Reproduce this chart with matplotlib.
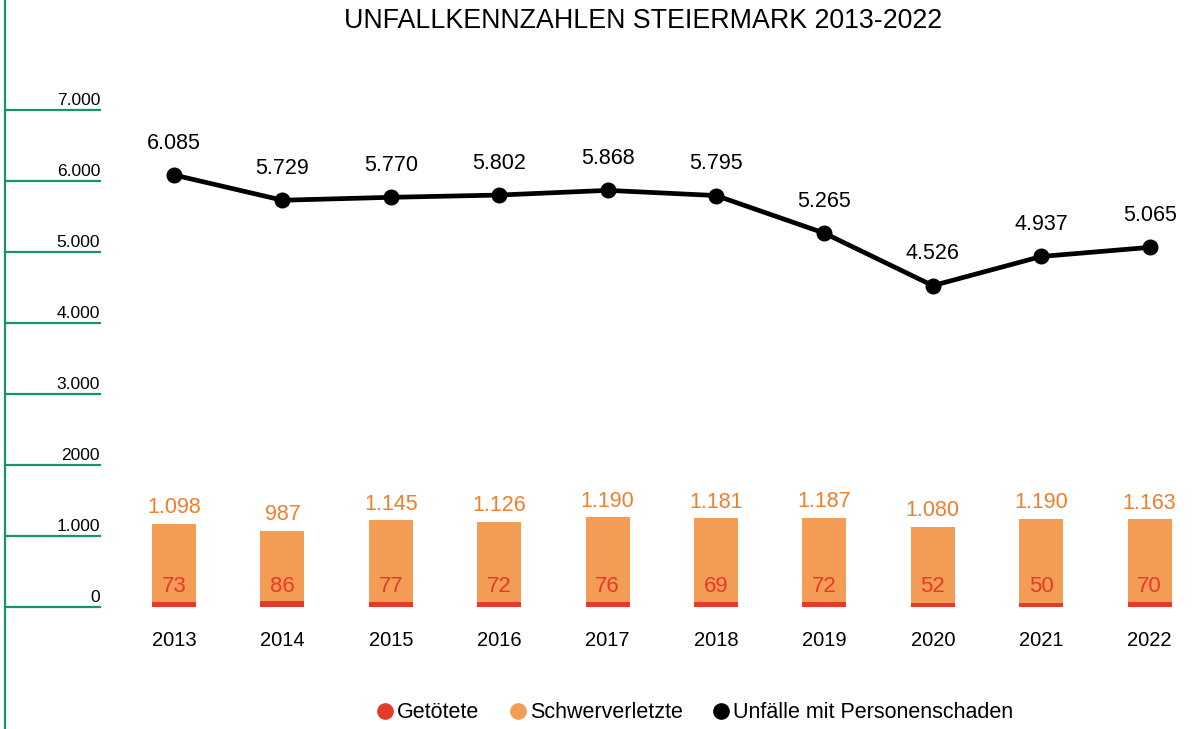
import matplotlib.pyplot as plt
from matplotlib.lines import Line2D

years = ['2013', '2014', '2015', '2016', '2017', '2018', '2019', '2020', '2021', '2022']
getoetete = [73, 86, 77, 72, 76, 69, 72, 52, 50, 70]
schwerverletzte = [1098, 987, 1145, 1126, 1190, 1181, 1187, 1080, 1190, 1163]
unfaelle = [6085, 5729, 5770, 5802, 5868, 5795, 5265, 4526, 4937, 5065]

y_ticks = [0, 1000, 2000, 3000, 4000, 5000, 6000, 7000]
y_labels = ['0', '1.000', '2000', '3.000', '4.000', '5.000', '6.000', '7.000']

RED = '#e63b2a'
ORANGE = '#f39c56'
ORANGE_TXT = '#f07e2c'
GREEN = '#17936d'


def fmt(v):
    return f'{v:,}'.replace(',', '.')


def main():
    plt.rcParams['font.family'] = ['Liberation Sans', 'DejaVu Sans']

    fig = plt.figure(figsize=(11.93, 7.29), dpi=100)
    ax = fig.add_axes([0, 0, 1, 1])
    ax.set_xlim(-1.605, 9.40)
    ax.set_ylim(-1718, 8549)
    ax.axis('off')

    x = list(range(len(years)))

    # stacked bars: killed at the bottom, seriously injured on top
    ax.bar(x, getoetete, width=0.405, color=RED, zorder=2)
    ax.bar(x, schwerverletzte, width=0.405, bottom=getoetete, color=ORANGE, zorder=2)

    for i in x:
        ax.annotate(str(getoetete[i]), (i, 0), xytext=(0, 15), textcoords='offset points',
                    ha='center', va='center', fontsize=16, color=RED, zorder=3)
        top = getoetete[i] + schwerverletzte[i]
        ax.annotate(fmt(schwerverletzte[i]), (i, top), xytext=(0, 11.5), textcoords='offset points',
                    ha='center', va='center', fontsize=15.5, color=ORANGE_TXT)
        ax.annotate(years[i], (i, 0), xytext=(0, -24), textcoords='offset points',
                    ha='center', va='center', fontsize=14.5, color='black')

    # accident line
    ax.plot(x, unfaelle, color='black', lw=3.4, marker='o', markersize=10.5, zorder=4)
    for i in x:
        ax.annotate(fmt(unfaelle[i]), (i, unfaelle[i]), xytext=(0, 23), textcoords='offset points',
                    ha='center', va='center', fontsize=15.5, color='black')

    # green axis on the left
    x0 = 5 / 1193
    x1 = 100 / 1193
    ax.plot([x0, x0], [0, 1], transform=ax.transAxes, color=GREEN, lw=1.6, clip_on=False)
    tr = ax.get_yaxis_transform()
    for v, lab in zip(y_ticks, y_labels):
        ax.plot([x0, x1], [v, v], transform=tr, color=GREEN, lw=1.6)
        ax.annotate(lab, (x1, v), xycoords=tr, xytext=(0, 3.5), textcoords='offset points',
                    ha='right', va='baseline', fontsize=12.5, color='black')

    fig.text(0.539, 1 - 21 / 729, 'UNFALLKENNZAHLEN STEIERMARK 2013-2022',
             ha='center', va='center', fontsize=19.3, color='black')

    handles = [
        Line2D([], [], ls='none', marker='o', markersize=11, color=RED, label='Getötete'),
        Line2D([], [], ls='none', marker='o', markersize=11, color=ORANGE, label='Schwerverletzte'),
        Line2D([], [], ls='none', marker='o', markersize=11, color='black',
               label='Unfälle mit Personenschaden'),
    ]
    fig.legend(handles=handles, loc='center', bbox_to_anchor=(696 / 1193, 1 - 713 / 729),
               ncol=3, frameon=False, fontsize=15.5, handlelength=0.6, handletextpad=0.25,
               columnspacing=1.5, borderpad=0)

    fig.savefig('out.png', dpi=100)


if __name__ == '__main__':
    main()
